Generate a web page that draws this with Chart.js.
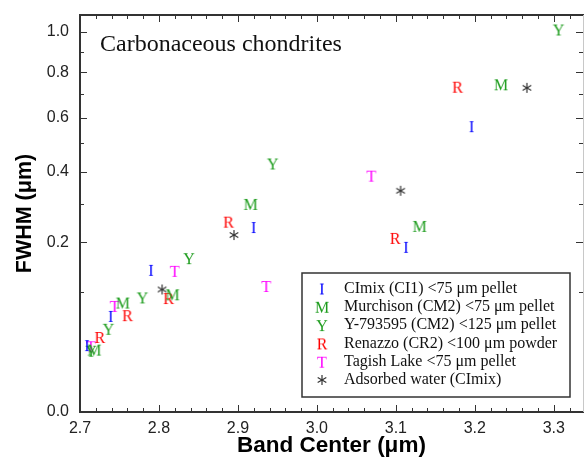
<!DOCTYPE html>
<html>
<head>
<meta charset="utf-8">
<script src="https://cdn.jsdelivr.net/npm/chart.js@4.4.0/dist/chart.umd.min.js"></script>
<style>html,body{margin:0;padding:0;background:#fff}</style>
</head>
<body>
<canvas id="myChart" width="584" height="459"></canvas>
<script>
// band center (um) and FWHM (um) per sample
const ciX = [3.196, 3.113, 2.920, 2.790, 2.739, 2.709];
const ciY = [0.566, 0.189, 0.237, 0.140, 0.064, 0.031];
const murX = [3.233, 3.130, 2.916, 2.817, 2.754, 2.718];
const murY = [0.744, 0.240, 0.300, 0.096, 0.083, 0.027];
const yamX = [3.306, 2.944, 2.838, 2.779, 2.736, 2.714];
const yamY = [1.014, 0.428, 0.164, 0.091, 0.048, 0.026];
const renX = [3.178, 3.099, 2.888, 2.812, 2.760, 2.725];
const renY = [0.733, 0.210, 0.251, 0.090, 0.065, 0.039];
const tagX = [3.069, 2.936, 2.820, 2.744, 2.714];
const tagY = [0.387, 0.110, 0.138, 0.078, 0.030];
const waterX = [3.266, 3.106, 2.895, 2.804];
const waterY = [0.728, 0.339, 0.217, 0.104];

const xTicks = [2.7, 2.8, 2.9, 3.0, 3.1, 3.2, 3.3];
const yTicks = [0.0, 0.2, 0.4, 0.6, 0.8, 1.0];

const SERIF = '"Liberation Serif", "Times New Roman", serif';
const SANS = '"Liberation Sans", Arial, sans-serif';

// square-root axis, like the original plot
class SqrtScale extends Chart.LinearScale {
    getPixelForValue(value) {
        const lo = Math.sqrt(this.min), hi = Math.sqrt(this.max);
        const v = Math.sqrt(Math.max(value, 0));
        return this.getPixelForDecimal((v - lo) / (hi - lo));
    }
    getValueForPixel(pixel) {
        const lo = Math.sqrt(this.min), hi = Math.sqrt(this.max);
        const v = lo + this.getDecimalForPixel(pixel) * (hi - lo);
        return v * v;
    }
}
SqrtScale.id = 'sqrt';
SqrtScale.defaults = Chart.LinearScale.defaults;
Chart.register(SqrtScale);

function makeGlyph(ch, color) {
    const c = document.createElement('canvas');
    c.width = 18;
    c.height = 18;
    const g = c.getContext('2d');
    if (ch === '*') {
        g.strokeStyle = color;
        g.lineWidth = 1.2;
        const r = 5;
        for (let k = 0; k < 3; k++) {
            const a = Math.PI / 2 + k * Math.PI / 3;
            g.beginPath();
            g.moveTo(9 - r * Math.cos(a), 9 - r * Math.sin(a));
            g.lineTo(9 + r * Math.cos(a), 9 + r * Math.sin(a));
            g.stroke();
        }
    } else {
        g.fillStyle = color;
        g.font = '16px ' + SERIF;
        g.textAlign = 'center';
        g.textBaseline = 'alphabetic';
        g.fillText(ch, 9, 14.5);
    }
    return c;
}

const series = [
    {label: 'CImix (CI1) <75 μm pellet', ch: 'I', color: '#0000ff', xs: ciX, ys: ciY},
    {label: 'Murchison (CM2) <75 μm pellet', ch: 'M', color: '#1c9c1c', xs: murX, ys: murY},
    {label: 'Y-793595 (CM2) <125 μm pellet', ch: 'Y', color: '#1c9c1c', xs: yamX, ys: yamY},
    {label: 'Renazzo (CR2) <100 μm powder', ch: 'R', color: '#ff0000', xs: renX, ys: renY},
    {label: 'Tagish Lake <75 μm pellet', ch: 'T', color: '#ff00ff', xs: tagX, ys: tagY},
    {label: 'Adsorbed water (CImix)', ch: '*', color: '#333333', xs: waterX, ys: waterY}
];

const datasets = series.map(s => {
    const glyph = makeGlyph(s.ch, s.color);
    return {
        label: s.label,
        data: s.xs.map((x, i) => ({x: x, y: s.ys[i]})),
        pointStyle: glyph,
        glyph: glyph,
        pointRadius: 8,
        showLine: false
    };
});

// frame, inward ticks, title and legend box
const decor = {
    id: 'decor',
    afterDraw(chart) {
        const ctx = chart.ctx;
        const a = chart.chartArea;
        const xs = chart.scales.x, ys = chart.scales.y;
        ctx.save();
        ctx.strokeStyle = '#333';
        ctx.lineWidth = 1;
        for (let i = 0; i <= 31; i++) {
            const v = 2.7 + i * 0.02;
            const px = Math.round(xs.getPixelForValue(v)) + 0.5;
            const len = i % 5 === 0 ? 7 : 4;
            ctx.beginPath();
            ctx.moveTo(px, a.bottom); ctx.lineTo(px, a.bottom - len);
            ctx.moveTo(px, a.top); ctx.lineTo(px, a.top + len);
            ctx.stroke();
        }
        for (let i = 1; i <= 10; i++) {
            const v = i * 0.1;
            const py = Math.round(ys.getPixelForValue(v)) + 0.5;
            const len = i % 2 === 0 ? 7 : 4;
            ctx.beginPath();
            ctx.moveTo(a.left, py); ctx.lineTo(a.left + len, py);
            ctx.moveTo(a.right, py); ctx.lineTo(a.right - len, py);
            ctx.stroke();
        }
        // left, top and bottom edges are solid; the right one is clipped in the original
        ctx.lineWidth = 2;
        ctx.beginPath();
        ctx.moveTo(a.right + 1, a.top);
        ctx.lineTo(a.left, a.top);
        ctx.lineTo(a.left, a.bottom);
        ctx.lineTo(a.right + 1, a.bottom);
        ctx.stroke();
        ctx.strokeStyle = '#c8c8c8';
        ctx.lineWidth = 1;
        ctx.beginPath();
        ctx.moveTo(a.right + 0.5, a.top);
        ctx.lineTo(a.right + 0.5, a.bottom);
        ctx.stroke();

        ctx.fillStyle = '#111';
        ctx.font = '24px ' + SERIF;
        ctx.textBaseline = 'alphabetic';
        ctx.textAlign = 'left';
        ctx.fillText('Carbonaceous chondrites', a.left + 20, a.top + 36);

        const bx = a.left + 222, by = a.top + 258, bw = 268, bh = 124;
        ctx.fillStyle = '#fff';
        ctx.fillRect(bx, by, bw, bh);
        ctx.strokeStyle = '#333';
        ctx.lineWidth = 1.5;
        ctx.strokeRect(bx, by, bw, bh);
        chart.data.datasets.forEach((ds, i) => {
            const cy = by + 15.5 + i * 18.3;
            ctx.drawImage(ds.glyph, bx + 20 - 9, cy - 9);
            ctx.fillStyle = '#111';
            ctx.font = '16px ' + SERIF;
            ctx.textBaseline = 'middle';
            ctx.fillText(ds.label, bx + 42, cy);
        });
        ctx.restore();
    }
};

new Chart(document.getElementById('myChart').getContext('2d'), {
    type: 'scatter',
    data: {datasets: datasets},
    options: {
        responsive: false,
        animation: false,
        layout: {autoPadding: false, padding: {top: 15, right: 1, left: 0, bottom: 0}},
        plugins: {legend: {display: false}, tooltip: {enabled: false}},
        scales: {
            x: {
                type: 'linear',
                min: 2.7,
                max: 3.337,
                afterFit: s => { s.height = 47; s.paddingLeft = 0; s.paddingRight = 0; },
                afterBuildTicks: s => { s.ticks = xTicks.map(v => ({value: v})); },
                grid: {display: false, drawTicks: false},
                border: {display: false},
                ticks: {
                    font: {family: SANS, size: 16},
                    color: '#222',
                    padding: 7,
                    maxRotation: 0,
                    callback: v => Number(v).toFixed(1)
                },
                title: {
                    display: true,
                    text: 'Band Center (μm)',
                    font: {family: SANS, size: 22.5, weight: 'bold'},
                    color: '#000',
                    padding: {top: 0, bottom: 0}
                }
            },
            y: {
                type: 'sqrt',
                min: 0,
                max: 1.092,
                afterFit: s => { s.width = 80; s.paddingTop = 0; s.paddingBottom = 0; },
                afterBuildTicks: s => { s.ticks = yTicks.map(v => ({value: v})); },
                grid: {display: false, drawTicks: false},
                border: {display: false},
                ticks: {
                    font: {family: SANS, size: 16},
                    color: '#222',
                    padding: 11,
                    callback: v => Number(v).toFixed(1)
                },
                title: {
                    display: true,
                    text: 'FWHM (μm)',
                    font: {family: SANS, size: 21.5, weight: 'bold'},
                    color: '#000',
                    padding: {top: 12, bottom: 0}
                }
            }
        }
    },
    plugins: [decor]
});
</script>
</body>
</html>
